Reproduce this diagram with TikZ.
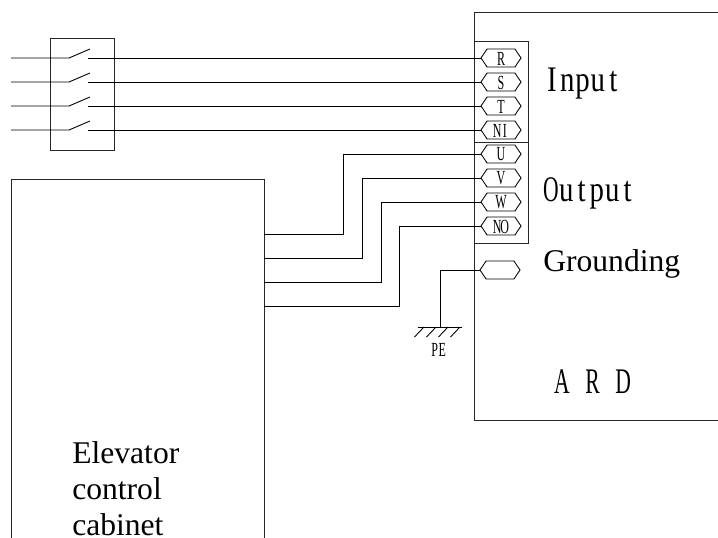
\documentclass[tikz,border=0pt]{standalone}
\usepackage{fontspec}
\usetikzlibrary{shapes.symbols}
\setmainfont{Liberation Serif}
\newfontfamily\narrowfont[FakeStretch=0.6]{Liberation Serif}
\newfontfamily\lowerfont[FakeStretch=0.8]{Liberation Serif}
\newcommand{\bigch}[1]{\makebox[11.5pt][c]{#1}}
\newcommand{\lowch}[1]{\makebox[11.5pt][c]{\lowerfont\fontsize{27}{30}\selectfont #1}}
\newcommand{\smch}[1]{\makebox[5.7pt][c]{#1}}
\tikzset{
  wire/.style={line width=0.65pt,black},
  boxline/.style={line width=0.75pt,black!85},
  term/.style={draw,line width=0.65pt,shape=signal,signal to=east and west,signal pointer angle=112,minimum width=30pt,minimum height=13.5pt,inner sep=0pt,outer sep=0pt},
  termlabel/.style={font=\narrowfont\fontsize{15}{16}\selectfont,inner sep=0pt},
  biglabel/.style={font=\narrowfont\fontsize{27}{30}\selectfont,anchor=base west,inner sep=0pt},
  timeslabel/.style={font=\fontsize{23.7}{26}\selectfont,anchor=base west,inner sep=0pt}
}
\begin{document}
\begin{tikzpicture}[x=0.75pt,y=-0.75pt]
\useasboundingbox (0,0) rectangle (718,538);
% ARD box
\coordinate (ardtop) at (718,12.5);
\coordinate (ardbot) at (718,420.5);
\draw[boxline] (ardtop) -- (474.5,12.5) -- (474.5,420.5) -- (ardbot);
% terminal block
\draw[boxline] (474.5,42) rectangle (528,243.5);
\draw[boxline] (474.5,142.5) -- (528,142.5);
% switch box
\draw[boxline] (50,38.5) rectangle (114,151);
% cabinet
\coordinate (cabbl) at (11,538);
\coordinate (cabbr) at (264,538);
\draw[boxline] (cabbl) -- (11,179.5) -- (264,179.5) -- (cabbr);
% terminals
\foreach \n/\t/\y in {R/\smch{R}/58,S/\smch{S}/82,T/\smch{T}/106,NI/\smch{N}\smch{I}/130,U/\smch{U}/154,V/\smch{V}/178,W/\smch{W}/202,NO/\smch{N}\smch{O}/226}{
  \node[term] (\n) at (501,\y) {};
  \node[termlabel] (l\n) at (501,\y+0.5) {\t};
}
\node[term] (G) at (500,270) {};
% input wires with switches
\foreach \n/\y in {R/58,S/82,T/106,NI/130}{
  \coordinate (a\n) at (11,\y);
  \coordinate (b\n) at (69,\y);
  \coordinate (c\n) at (90,\y-9);
  \coordinate (d\n) at (88,\y);
  \draw[wire] (a\n) -- (b\n) -- (c\n);
  \draw[wire] (d\n) -- (\n.west);
}
% output wires
\foreach \n/\y/\x in {U/234/343.5,V/258/362,W/282/381,NO/306/399.5}{
  \coordinate (e\n) at (264,\y);
  \draw[wire] (e\n) -- (\x,\y) |- (\n.west);
}
% ground
\coordinate (gnd) at (440.5,327);
\coordinate (gl) at (418,327);
\coordinate (gr) at (462,327);
\draw[wire] (G.west) -| (gnd);
\draw[wire] (gl) -- (gr);
\foreach \x in {424,436,448,460}{
  \coordinate (h\x) at (\x,327);
  \draw[wire] (h\x) -- ++(-9.5,10);
}
\node[termlabel] (pe) at (438.5,350) {\smch{P}\smch{E}};
% labels
\node[biglabel] (input) at (544,92) {\lowch{I}\lowch{n}\lowch{p}\lowch{u}\lowch{t}};
\node[biglabel] (output) at (543,202) {\bigch{O}\lowch{u}\lowch{t}\lowch{p}\lowch{u}\lowch{t}};
\node[timeslabel] (grounding) at (543,271.5) {Grounding};
\node[biglabel] (ard) at (554,393) {\bigch{A}\bigch{ }\bigch{R}\bigch{ }\bigch{D}};
\node[timeslabel] (elev) at (72,463) {Elevator};
\node[timeslabel] (ctrl) at (72,499) {control};
\node[timeslabel] (cab) at (72,535.5) {cabinet};
\end{tikzpicture}
\end{document}
